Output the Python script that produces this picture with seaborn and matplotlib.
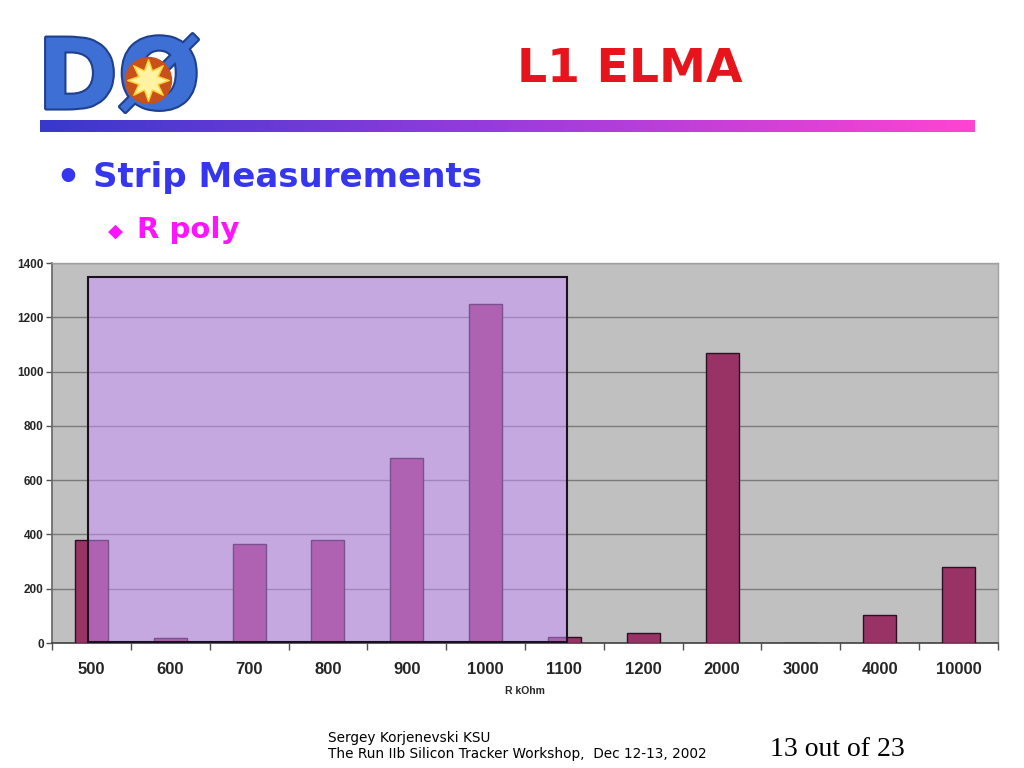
import matplotlib
matplotlib.use("Agg")
import matplotlib.pyplot as plt
import matplotlib.patheffects as pe
from matplotlib.patches import Rectangle
from matplotlib.colors import LinearSegmentedColormap
import numpy as np
import pandas as pd
import seaborn as sns

# ---- data ----
categories = ["500", "600", "700", "800", "900", "1000", "1100", "1200",
              "2000", "3000", "4000", "10000"]
counts = [378, 18, 365, 380, 680, 1250, 22, 37, 1068, 0, 102, 280]
y_ticks = [0, 200, 400, 600, 800, 1000, 1200, 1400]
x_label = "R kOhm"
title = "L1 ELMA"
bullet1 = "Strip Measurements"
bullet2 = "R poly"
footer1 = "Sergey Korjenevski KSU"
footer2 = "The Run IIb Silicon Tracker Workshop,  Dec 12-13, 2002"
page = "13 out of 23"
# highlighted region (category index span, upper count)
hl_left, hl_right, hl_top = -0.04, 6.03, 1350

df = pd.DataFrame({"R": categories, "N": counts})

sns.set_theme(style="white")
plt.rcParams["font.family"] = ["DejaVu Sans"]

fig = plt.figure(figsize=(10.24, 7.68), dpi=100)
fig.patch.set_facecolor("white")

# ---- header: gradient bar ----
gax = fig.add_axes([40 / 1024, 1 - 132 / 768, 935 / 1024, 12 / 768])
cmap = LinearSegmentedColormap.from_list(
    "g", ["#3838cc", "#9a3cdc", "#ff44d2"])
gax.imshow(np.linspace(0, 1, 256)[None, :], aspect="auto", cmap=cmap)
gax.set_axis_off()

# ---- logo ----
lax = fig.add_axes([30 / 1024, 1 - 120 / 768, 180 / 1024, 100 / 768])
lax.set_xlim(0, 1)
lax.set_ylim(0, 1)
lax.set_axis_off()
lax.text(0.04, 0.38, "DØ", fontsize=70, fontweight="bold", color="#3d6fd4",
         ha="left", va="center",
         path_effects=[pe.withStroke(linewidth=3, foreground="#1f3f8f")])
lax.scatter([0.655], [0.40], s=1100, marker="o", color="#c8501a", zorder=3)
lax.scatter([0.655], [0.40], s=900, marker=(8, 1, 0), color="#fff2a0",
            edgecolor="#ffd030", linewidth=1, zorder=4)

# ---- titles ----
fig.text(630 / 1024, 1 - 70 / 768, title, color="#e8141c", fontsize=34,
         fontweight="bold", ha="center", va="center")
fig.text(55 / 1024, 1 - 178 / 768, "•", color="#3636ee", fontsize=28,
         fontweight="bold", ha="left", va="center")
fig.text(93 / 1024, 1 - 177 / 768, bullet1, color="#3636ee", fontsize=24.5,
         fontweight="bold", ha="left", va="center")
fig.text(108 / 1024, 1 - 231 / 768, "◆", color="#ff14ff", fontsize=14,
         ha="left", va="center")
fig.text(137 / 1024, 1 - 230 / 768, bullet2, color="#ff14ff", fontsize=21,
         fontweight="bold", ha="left", va="center")

# ---- chart ----
ax = fig.add_axes([52 / 1024, 1 - 643 / 768, 946 / 1024, 380 / 768])
ax.set_facecolor("#c0c0c0")
sns.barplot(data=df, x="R", y="N", order=categories, color="#993366",
            saturation=1, edgecolor="#2a1020", linewidth=1.0, width=0.42,
            ax=ax, zorder=3)
ax.set_xlim(-0.5, len(categories) - 0.5)
ax.set_ylim(0, 1400)
ax.set_yticks(y_ticks)
ax.yaxis.grid(True, color="#7a7a7a", linewidth=1.0, zorder=1)
ax.set_axisbelow(True)

ax.add_patch(Rectangle((hl_left, 2), hl_right - hl_left, hl_top - 2,
                       facecolor="#c892fe", alpha=0.5, edgecolor="none",
                       zorder=5))
ax.add_patch(Rectangle((hl_left, 2), hl_right - hl_left, hl_top - 2,
                       facecolor="none", edgecolor="#1a1020", linewidth=1.5,
                       zorder=6))

for s in ["top", "right"]:
    ax.spines[s].set_visible(True)
    ax.spines[s].set_color("#a0a0a0")
    ax.spines[s].set_linewidth(1.0)
ax.spines["left"].set_color("#6a6a6a")
ax.spines["bottom"].set_color("#404040")
ax.spines["bottom"].set_linewidth(1.2)

ax.set_xticks(np.arange(-0.5, len(categories), 1.0), minor=True)
ax.tick_params(axis="x", which="major", length=0, pad=14, labelsize=12)
ax.tick_params(axis="x", which="minor", length=5, color="#505050",
               width=1, direction="out")
ax.tick_params(axis="y", which="major", length=4, color="#505050",
               width=1, direction="out", pad=2, labelsize=8.5)
ax.tick_params(left=True, bottom=False)
ax.tick_params(axis="x", which="minor", bottom=True)
plt.setp(ax.get_xticklabels(), fontweight="bold", family="Liberation Sans")
plt.setp(ax.get_yticklabels(), fontweight="bold", family="Liberation Sans")
ax.set_xlabel(x_label, fontsize=7.5, fontweight="bold",
              family="Liberation Sans", labelpad=6)
ax.set_ylabel("")

# ---- footer ----
fig.text(328 / 1024, 1 - 738 / 768, footer1, fontsize=9.8, ha="left",
         va="center", color="black")
fig.text(328 / 1024, 1 - 754 / 768, footer2, fontsize=9.8, ha="left",
         va="center", color="black")
fig.text(770 / 1024, 1 - 750 / 768, page, fontsize=20, ha="left",
         va="center", family="Liberation Serif", color="black")

fig.savefig("out.png", dpi=100)
